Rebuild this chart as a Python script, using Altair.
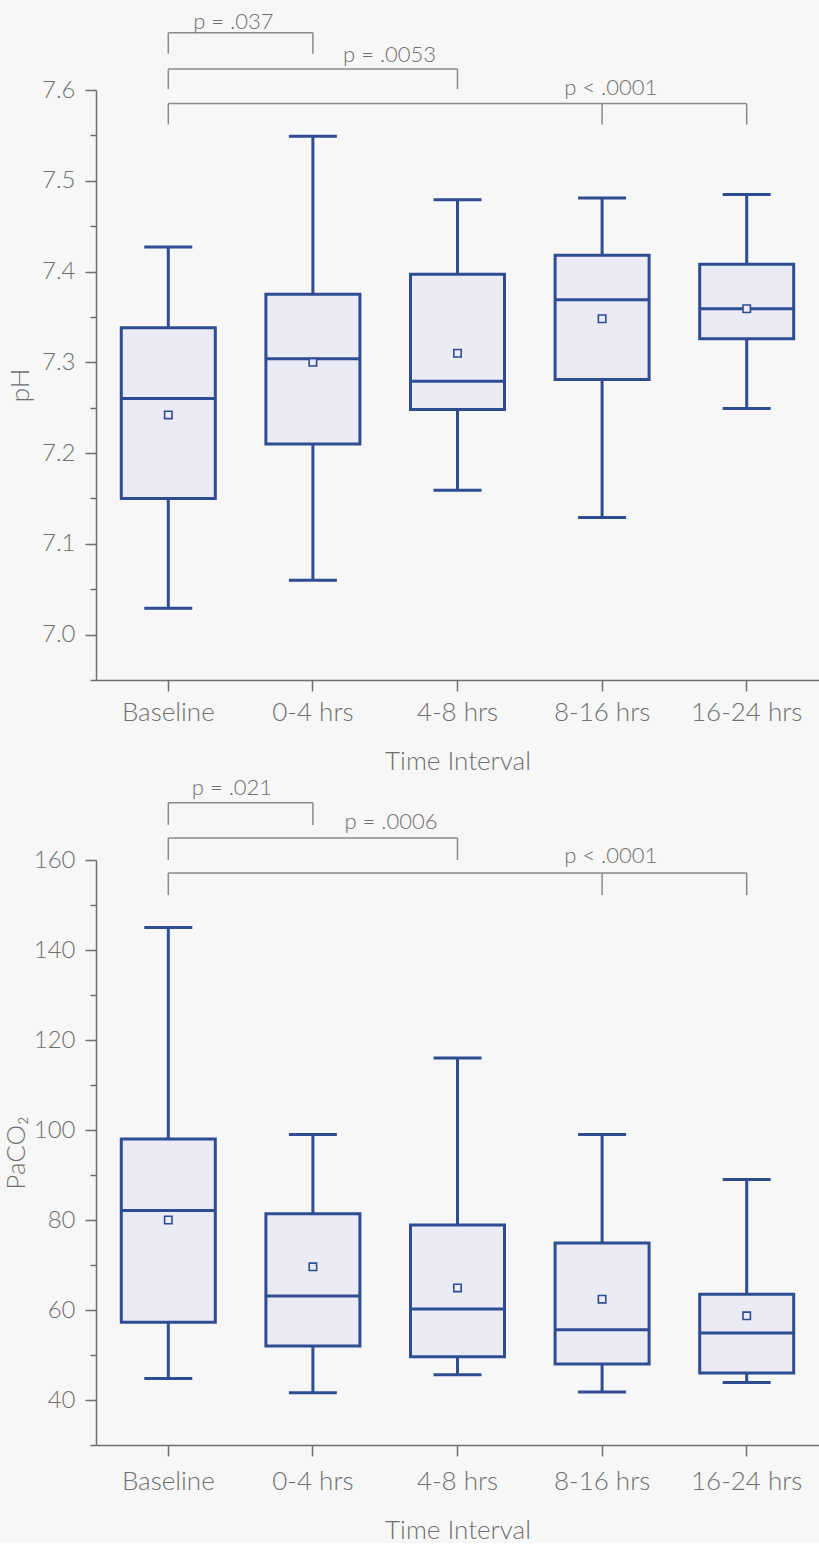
import altair as alt
import pandas as pd

cats = ["Baseline", "0-4 hrs", "4-8 hrs", "8-16 hrs", "16-24 hrs"]

# pH statistics
ph_low = [7.029, 7.060, 7.159, 7.129, 7.249]
ph_q1 = [7.150, 7.210, 7.248, 7.281, 7.326]
ph_med = [7.260, 7.304, 7.279, 7.369, 7.359]
ph_q3 = [7.338, 7.375, 7.397, 7.418, 7.408]
ph_high = [7.427, 7.549, 7.479, 7.481, 7.485]
ph_mean = [7.242, 7.300, 7.310, 7.348, 7.359]
ph_ticks = [6.95, 7.0, 7.05, 7.1, 7.15, 7.2, 7.25, 7.3, 7.35, 7.4, 7.45, 7.5, 7.55, 7.6]

# PaCO2 statistics
pa_low = [44.8, 41.6, 45.6, 41.8, 43.9]
pa_q1 = [57.3, 52.0, 49.6, 48.0, 46.0]
pa_med = [82.1, 63.1, 60.2, 55.6, 54.9]
pa_q3 = [98.0, 81.4, 78.9, 74.9, 63.5]
pa_high = [145.0, 99.0, 116.0, 99.0, 89.0]
pa_mean = [80.0, 69.6, 64.9, 62.4, 58.7]
pa_ticks = [30, 40, 50, 60, 70, 80, 90, 100, 110, 120, 130, 140, 150, 160]

# significance brackets (category index units / data units)
ph_br_start = [0, 0, 0]
ph_br_end = [1, 2, 4]
ph_br_level = [7.663, 7.623, 7.585]
ph_br_foot = [7.640, 7.601, 7.562]
ph_br_drops = [[0, 1], [0, 2], [0, 3, 4]]
ph_p_text = ["p = .037", "p = .0053", "p < .0001"]
ph_p_x = [0.45, 1.53, 3.06]
ph_p_y = [7.675, 7.639, 7.602]

pa_br_start = [0, 0, 0]
pa_br_end = [1, 2, 4]
pa_br_level = [172.7, 164.9, 157.1]
pa_br_foot = [167.8, 160.0, 152.2]
pa_br_drops = [[0, 1], [0, 2], [0, 3, 4]]
pa_p_text = ["p = .021", "p = .0006", "p < .0001"]
pa_p_x = [0.44, 1.54, 3.06]
pa_p_y = [176.0, 168.4, 160.9]

BLUE = "#2f4d92"
FILL = "#ebebf5"
GRAY = "#6f6f6f"
BRK = "#8a8a8a"
FONT = "Lato Light, Lato"
W = 723


def panel(low, q1, med, q3, high, mean, domain, ticks, major, ytitle, height, tpad, xlpad,
          br_s, br_e, br_lv, br_ft, br_drops, p_text, p_x, p_y):
    df = pd.DataFrame({"cat": cats, "low": low, "q1": q1, "med": med,
                       "q3": q3, "high": high, "mean": mean})
    yscale = alt.Scale(domain=domain, nice=False, zero=False)
    fmt = ".1f" if major == 10 else "d"
    yaxis = alt.Axis(
        values=ticks,
        labelExpr=f"round(datum.value*100) % {major} == 0 ? format(datum.value, '{fmt}') : ''",
        tickSize={"condition": {"test": f"round(datum.value*100) % {major} == 0", "value": 11}, "value": 6},
        labelPadding=10,
        labelFontSize=24,
        titlePadding=tpad,
    )
    xenc = alt.X("cat:N", sort=cats,
                 scale=alt.Scale(paddingInner=0, paddingOuter=0),
                 axis=alt.Axis(title="Time Interval", labelAngle=0, tickSize=11,
                               labelPadding=xlpad, titlePadding=23, labelFontSize=26))

    def Y(f):
        return alt.Y(f, scale=yscale, axis=yaxis, title=ytitle)

    base = alt.Chart(df)
    box = base.mark_bar(size=94, fill=FILL, stroke=BLUE, strokeWidth=3).encode(
        x=xenc, y=Y("q1:Q"), y2="q3:Q")
    wlo = base.mark_rule(color=BLUE, strokeWidth=3).encode(x=xenc, y=Y("low:Q"), y2="q1:Q")
    whi = base.mark_rule(color=BLUE, strokeWidth=3).encode(x=xenc, y=Y("q3:Q"), y2="high:Q")
    medm = base.mark_tick(size=94, thickness=3, color=BLUE, opacity=1).encode(x=xenc, y=Y("med:Q"))
    clo = base.mark_tick(size=48, thickness=3, color=BLUE, opacity=1).encode(x=xenc, y=Y("low:Q"))
    chi = base.mark_tick(size=48, thickness=3, color=BLUE, opacity=1).encode(x=xenc, y=Y("high:Q"))
    meanm = base.mark_point(shape="square", size=55, filled=True, fill=FILL, stroke=BLUE,
                            strokeWidth=1.6, opacity=1).encode(x=xenc, y=Y("mean:Q"))
    boxes = alt.layer(box, wlo, whi, medm, clo, chi, meanm)

    ax = alt.Scale(domain=[-0.5, 4.5], nice=False, zero=False)
    hdf = pd.DataFrame({"s": br_s, "e": br_e, "lv": br_lv})
    rows = []
    for lv, ft, drops in zip(br_lv, br_ft, br_drops):
        for d in drops:
            rows.append({"pos": d, "lv": lv, "ft": ft})
    ddf = pd.DataFrame(rows)
    tdf = pd.DataFrame({"t": p_text, "px": p_x, "py": p_y})
    hl = alt.Chart(hdf).mark_rule(color=BRK, strokeWidth=1.5).encode(
        x=alt.X("s:Q", scale=ax, axis=None), x2="e:Q",
        y=Y("lv:Q"))
    vl = alt.Chart(ddf).mark_rule(color=BRK, strokeWidth=1.5).encode(
        x=alt.X("pos:Q", scale=ax, axis=None),
        y=Y("lv:Q"), y2="ft:Q")
    tx = alt.Chart(tdf).mark_text(font=FONT, fontSize=22, fontWeight=300, color=GRAY,
                                  baseline="middle", align="center").encode(
        x=alt.X("px:Q", scale=ax, axis=None),
        y=Y("py:Q"), text="t:N")
    ann = alt.layer(hl, vl, tx)
    return alt.layer(boxes, ann).resolve_scale(x="independent").properties(width=W, height=height)


top = panel(ph_low, ph_q1, ph_med, ph_q3, ph_high, ph_mean, [6.95, 7.6], ph_ticks, 10, "pH", 590, 8, 8,
            ph_br_start, ph_br_end, ph_br_level, ph_br_foot, ph_br_drops, ph_p_text, ph_p_x, ph_p_y)
bot = panel(pa_low, pa_q1, pa_med, pa_q3, pa_high, pa_mean, [30, 160], pa_ticks, 2000, "PaCO₂", 585, 4, 12,
            pa_br_start, pa_br_end, pa_br_level, pa_br_foot, pa_br_drops, pa_p_text, pa_p_x, pa_p_y)

chart = alt.vconcat(top, bot, spacing=3).properties(
    padding={"left": 3, "top": 10, "right": 0, "bottom": 0},
    background="#f7f7f7",
).configure_view(stroke=None).configure_axis(
    grid=False,
    domainColor=GRAY, domainWidth=1.5, tickColor=GRAY, tickWidth=1.5,
    labelFont=FONT, labelFontWeight=300, labelColor=GRAY,
    titleFont=FONT, titleFontSize=26, titleFontWeight=300, titleColor=GRAY,
)

chart.save("out.html", embed_options={"renderer": "svg", "actions": False})
